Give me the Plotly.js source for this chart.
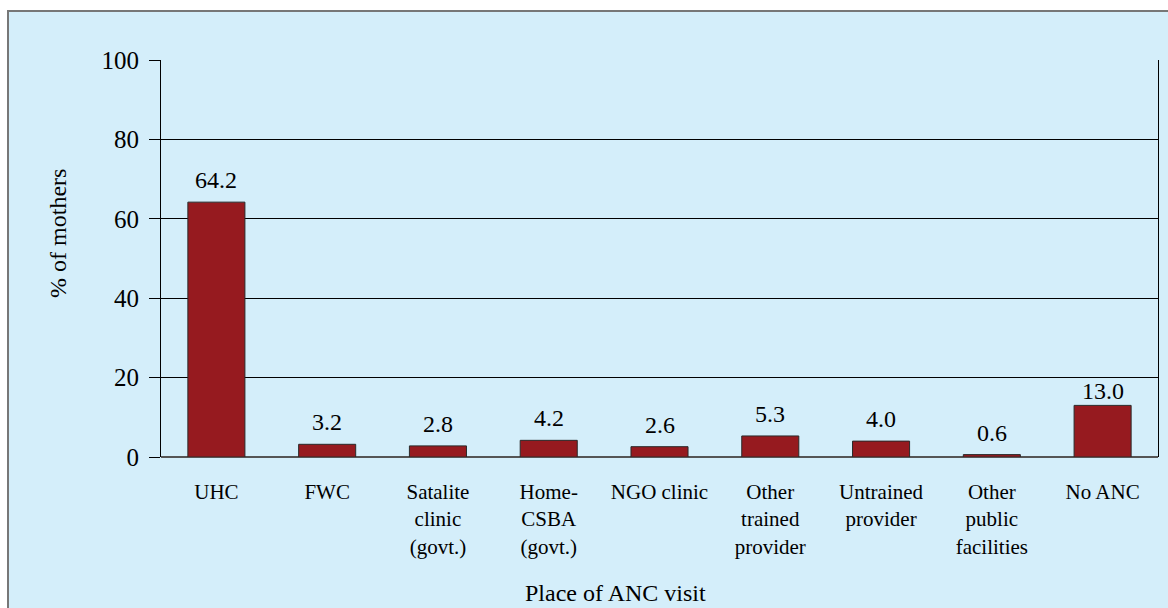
<!DOCTYPE html>
<html>
<head>
<meta charset="utf-8">
<script src="https://cdn.plot.ly/plotly-3.0.1.min.js"></script>
<style>
  html, body { margin: 0; padding: 0; background: #ffffff; width: 1168px; height: 608px; overflow: hidden; }
  #bg { position: absolute; left: 7px; top: 10px; width: 1180px; height: 620px;
        background: #d4eefa; border-left: 2px solid #777; border-top: 2px solid #777; box-sizing: border-box; }
  #chart { position: absolute; left: 0; top: 0; width: 1168px; height: 608px; }
</style>
</head>
<body>
<div id="bg"></div>
<div id="chart"></div>
<script>
const categories = ["UHC", "FWC", "Satalite<br>clinic<br>(govt.)", "Home-<br>CSBA<br>(govt.)", "NGO clinic",
                    "Other<br>trained<br>provider", "Untrained<br>provider", "Other<br>public<br>facilities", "No ANC"];
const values = [64.2, 3.2, 2.8, 4.2, 2.6, 5.3, 4.0, 0.6, 13.0];
const valueLabels = ["64.2", "3.2", "2.8", "4.2", "2.6", "5.3", "4.0", "0.6", "13.0"];
const yTicks = [0, 20, 40, 60, 80, 100];

const font = '"Liberation Serif", "Times New Roman", serif';

const trace = {
  type: "bar",
  x: categories,
  y: values,
  marker: { color: "#961a1f", line: { color: "#2a2a2a", width: 1 } },
  hoverinfo: "none"
};

const annotations = values.map((v, i) => ({
  x: categories[i], y: v, xref: "x", yref: "y",
  text: valueLabels[i], showarrow: false, yanchor: "bottom",
  yshift: i === values.length - 1 ? -1 : 7,
  font: { family: font, size: 24, color: "#000" }
}));
annotations.push({
  text: "% of mothers", xref: "paper", yref: "paper", x: -0.1035, y: 0.564,
  xanchor: "center", yanchor: "middle", textangle: -90, showarrow: false,
  font: { family: font, size: 24, color: "#000" }
});
annotations.push({
  text: "Place of ANC visit", xref: "paper", yref: "paper", x: 0.456, y: -0.343,
  xanchor: "center", yanchor: "middle", showarrow: false,
  font: { family: font, size: 24, color: "#000" }
});

const layout = {
  width: 1168, height: 608,
  margin: { l: 161, r: 10, t: 60, b: 151 },
  paper_bgcolor: "rgba(0,0,0,0)",
  plot_bgcolor: "rgba(0,0,0,0)",
  showlegend: false,
  bargap: 0.485,
  font: { family: font, color: "#000" },
  xaxis: {
    type: "category",
    showgrid: false, showline: false, ticks: "",
    tickfont: { family: font, size: 21, color: "#000" },
    ticklabelstandoff: 20,
    automargin: false, fixedrange: true
  },
  yaxis: {
    range: [0, 100], tickvals: yTicks, ticktext: yTicks.map(String),
    showgrid: true, gridcolor: "#000", gridwidth: 1,
    zeroline: true, zerolinecolor: "#555", zerolinewidth: 1.5,
    showline: true, linecolor: "#000", linewidth: 1, mirror: true,
    ticks: "outside", ticklen: 11, tickcolor: "#000", tickwidth: 1,
    tickfont: { family: font, size: 25, color: "#000" },
    ticklabelstandoff: 5,
    automargin: false, fixedrange: true
  },
  annotations: annotations
};

Plotly.newPlot("chart", [trace], layout, { displayModeBar: false, staticPlot: true });
</script>
</body>
</html>
